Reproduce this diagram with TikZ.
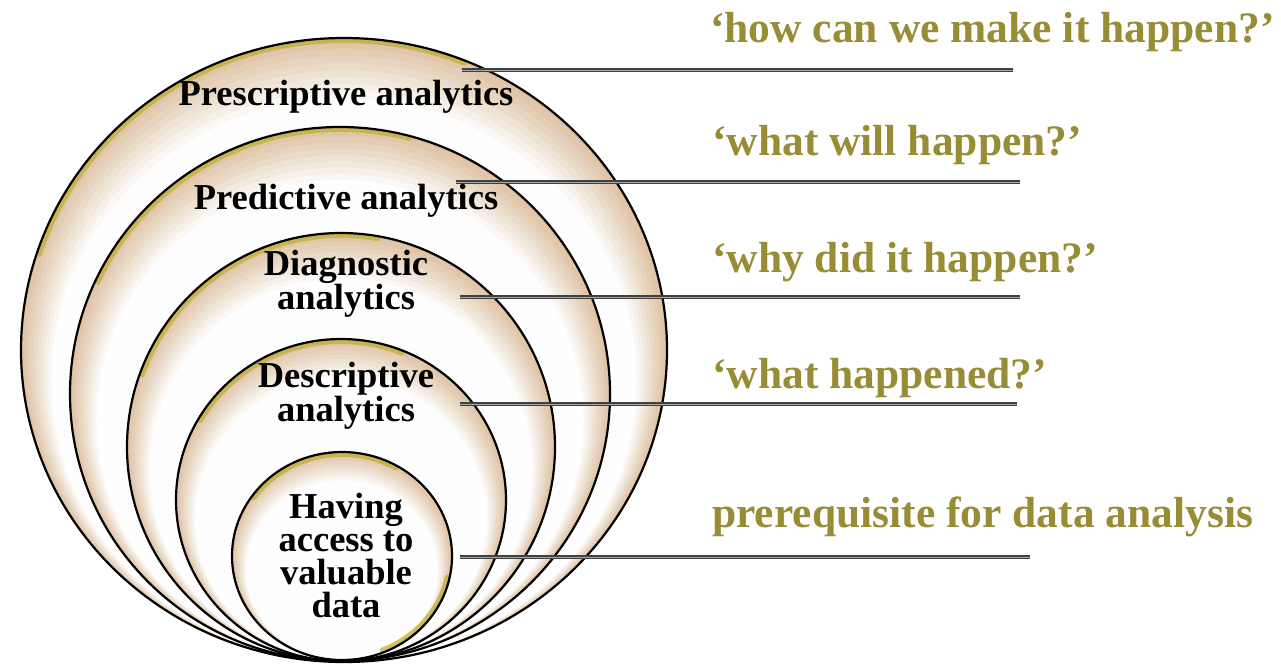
\documentclass[tikz,border=0pt]{standalone}
\usepackage{fontspec}
\setmainfont{Liberation Serif}
\definecolor{ringtan}{RGB}{222,192,160}
\definecolor{rimgold}{RGB}{192,176,52}
\definecolor{qolive}{RGB}{152,140,52}
% Watercolour wash inside one ring: tan along the rim, fading to white,
% widest at the top and vanishing at the shared bottom point.
% #1,#2 centre  #3,#4 radii  #5 band width at the top
\newcommand\washring[5]{%
  \begin{scope}
    \clip (#1,#2) ellipse [x radius=#3, y radius=#4];
    \fill[ringtan] (#1,#2) ellipse [x radius=#3, y radius=#4];
    \foreach \k in {1,...,9}{%
      \pgfmathsetmacro\wins{#5*(\k-0.5)/9}%
      \pgfmathsetmacro\wcy{#2+\wins/2}%
      \pgfmathsetmacro\wrx{#3-\wins/2}%
      \pgfmathsetmacro\wry{#4-\wins/2}%
      \pgfmathsetmacro\wop{min(0.94,1/(10-\k))}%
      \fill[white, fill opacity=\wop] (#1,\wcy) ellipse [x radius=\wrx, y radius=\wry];
    }
  \end{scope}}
\begin{document}
\begin{tikzpicture}[x=1pt,y=-1pt,
  ringline/.style={draw=black, line width=2.2pt},
  rim/.style={draw=rimgold, line width=5pt, opacity=0.75, line cap=round},
  levellabel/.style={font=\fontsize{36.5}{33}\selectfont\bfseries, align=center, inner sep=0pt},
  question/.style={font=\fontsize{43.5}{48}\selectfont\bfseries, text=qolive, inner sep=0pt, anchor=base west},
  leader/.style={draw=black!75, double=black!35, double distance=1pt, line width=1.4pt}]
\useasboundingbox (0,0) rectangle (1281,664);

% ---- nested rings, outermost first ----
% Prescriptive
\washring{344}{350}{323}{312}{64}
\draw[rim] (344,350) ++(198:320.5 and 309.5) arc [start angle=198, end angle=292, x radius=320.5, y radius=309.5];
\draw[ringline] (344,350) ellipse [x radius=323, y radius=312];
% Predictive
\washring{340}{394}{270}{267}{56}
\draw[rim] (340,394) ++(205:267.5 and 264.5) arc [start angle=205, end angle=285, x radius=267.5, y radius=264.5];
\draw[ringline] (340,394) ellipse [x radius=270, y radius=267];
% Diagnostic
\washring{341}{447}{214}{214}{48}
\draw[rim] (341,447) ++(200:211.5 and 211.5) arc [start angle=200, end angle=280, x radius=211.5, y radius=211.5];
\draw[ringline] (341,447) ellipse [x radius=214, y radius=214];
% Descriptive
\washring{341}{500}{165}{161}{40}
\draw[rim] (341,500) ++(210:162.5 and 158.5) arc [start angle=210, end angle=292, x radius=162.5, y radius=158.5];
\draw[ringline] (341,500) ellipse [x radius=165, y radius=161];
% Data access
\washring{342}{556}{110}{104}{30}
\draw[rim] (342,556) ++(215:107.5 and 101.5) arc [start angle=215, end angle=300, x radius=107.5, y radius=101.5];
\draw[rim] (342,556) ++(12:107.5 and 101.5) arc [start angle=12, end angle=68, x radius=107.5, y radius=101.5];
\draw[ringline] (342,556) ellipse [x radius=110, y radius=104];

% ---- leader lines ----
\coordinate (s1) at (462,70);  \coordinate (e1) at (1013,70);
\coordinate (s2) at (456,182); \coordinate (e2) at (1020,182);
\coordinate (s3) at (460,297); \coordinate (e3) at (1020,297);
\coordinate (s4) at (460,404); \coordinate (e4) at (1017,404);
\coordinate (s5) at (460,557); \coordinate (e5) at (1030,557);
\draw[leader] (s1) -- (e1);
\draw[leader] (s2) -- (e2);
\draw[leader] (s3) -- (e3);
\draw[leader] (s4) -- (e4);
\draw[leader] (s5) -- (e5);

% ---- ring labels ----
\node[levellabel] (presc) at (346,97) {Prescriptive analytics};
\node[levellabel] (pred)  at (346,201) {Predictive analytics};
\node[levellabel] (diag)  at (346,284) {Diagnostic\\analytics};
\node[levellabel] (desc)  at (346,396) {Descriptive\\analytics};
\node[levellabel] (data)  at (346,556) {Having\\access to\\valuable\\data};

% ---- questions ----
\node[question] (q1) at (710,42)  {‘how can we make it happen?’};
\node[question] (q2) at (712,155) {‘what will happen?’};
\node[question] (q3) at (712,272) {‘why did it happen?’};
\node[question] (q4) at (712,388) {‘what happened?’};
\node[question] (q5) at (712,527) {prerequisite for data analysis};
\end{tikzpicture}
\end{document}
